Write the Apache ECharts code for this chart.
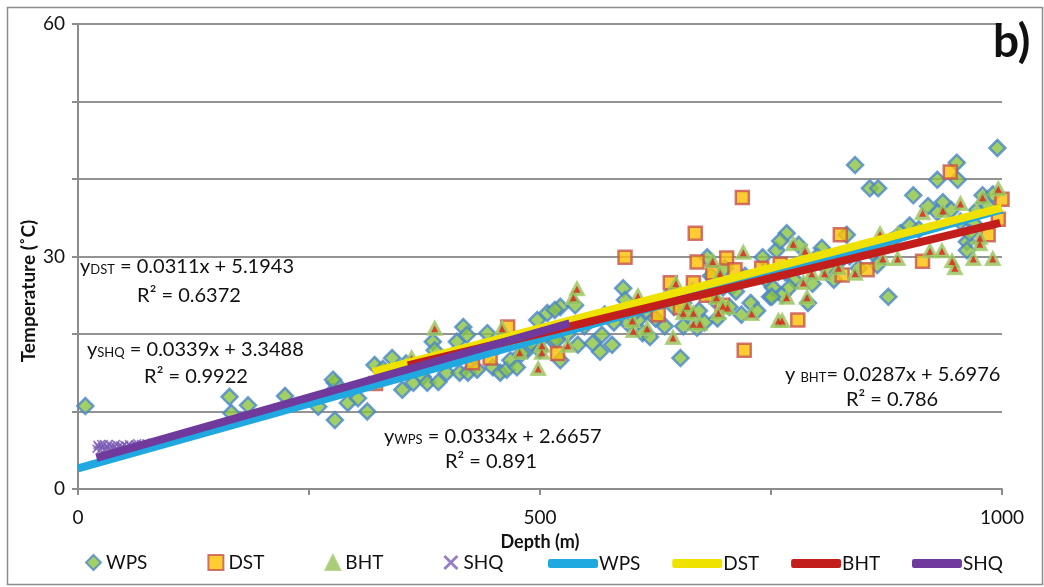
<!DOCTYPE html>
<html><head><meta charset="utf-8">
<script src="https://cdn.jsdelivr.net/npm/echarts@6/dist/echarts.min.js"></script>
<style>html,body{margin:0;padding:0;background:#fff}#c{width:1044px;height:587px}</style>
</head><body><div id="c"></div>
<script>
// ---- data (depth m, temperature °C) ----
const wpsData = [[8,10.7],[164,11.9],[166,9.8],[184,10.8],[224,12.0],[260,10.6],[278,8.9],[278,13.7],[276,12.6],[292,11.1],[303,11.7],[313,10.0],
[276,14.1],[321,16.0],[340,16.9],[346,15.4],[351,12.8],[363,13.7],[373,14.5],[378,13.7],[384,19.0],[386,17.9],[390,13.8],[399,15.0],[410,19.0],[417,20.9],[421,19.9],[413,15.0],[422,15.0],[432,15.4],[443,20.1],[449,15.7],[457,15.0],[464,15.4],[468,16.6],[475,15.7],[486,17.9],[497,21.8],[500,17.9],[508,22.7],[514,19.2],[522,23.5],[330,15.5],[336,14.8],[355,16.2],[368,15.8],[395,16.5],[405,17.2],[428,17.0],[438,18.2],[455,18.5],[470,19.0],[480,17.5],[490,18.8],[505,19.8],[518,20.5],[530,20.0],
[516,23.1],[538,23.7],[518,19.2],[522,16.6],[541,18.6],[557,18.8],[565,17.7],[567,19.9],[578,18.6],[590,25.9],[592,24.4],[595,21.4],[606,21.8],[611,20.1],[619,19.6],[652,16.9],[670,20.8],[681,29.9],[708,26.1],[741,29.9],[749,24.8],[600,22.5],[615,23.0],[625,22.0],[635,21.0],[645,23.5],[655,24.0],[660,22.5],[665,25.5],[672,23.0],[678,21.5],[688,24.5],[692,22.0],[698,26.0],[705,23.5],[712,25.5],[718,22.5],[722,27.5],[728,24.0],[735,23.0],[745,27.0],[752,26.0],[758,28.0],[762,25.0],[700,28.5],[685,27.5],[655,21.0],[640,25.0],[580,21.5],[570,22.5],[548,21.0],
[841,41.8],[857,38.8],[866,38.8],[904,37.9],[930,39.9],[951,42.1],[952,39.9],[995,44.0],[936,37.0],[979,37.9],[930,35.7],[962,31.9],[877,24.8],[767,33.0],[756,30.8],[751,24.8],[805,31.1],[832,32.8],[865,28.9],[969,34.3],[973,36.0],[962,30.8],[765,28.0],[775,27.0],[785,29.5],[795,26.5],[800,30.0],[810,28.5],[818,27.0],[825,29.5],[835,30.0],[845,28.5],[852,31.0],[860,30.5],[870,31.5],[880,32.0],[890,33.0],[900,34.0],[910,33.5],[920,36.5],[945,36.0],[955,34.5],[965,33.0],[985,36.5],[990,38.0],[780,31.5],[790,24.0],[760,32.0],[770,26.0]];
const dstData = [[322,13.6],[427,16.3],[446,16.9],[465,20.9],[519,17.5],[592,29.9],[628,22.5],[641,26.6],[652,23.4],[666,26.6],[668,33.0],[670,29.3],[687,27.9],[697,23.7],[702,29.8],[711,28.3],[719,37.6],[721,17.9],[779,21.8],[825,32.8],[827,27.6],[854,28.3],[914,29.4],[944,40.9],[985,32.8],[996,34.8],[1000,37.4],[760,29.0],[740,28.5],[680,25.0]];
const bhtData = [[361,17.0],[386,20.8],[459,20.8],[478,17.7],[498,15.6],[502,17.7],[502,18.6],[530,18.6],[536,24.8],[540,25.9],[600,21.8],[601,20.5],[606,25.0],[616,20.8],[644,19.6],[647,26.6],[655,22.8],[659,23.7],[666,21.4],[666,22.8],[673,21.4],[687,29.5],[691,24.8],[693,22.8],[695,27.9],[698,23.7],[703,23.5],[720,30.6],[729,22.7],[758,21.8],
[996,38.8],[979,37.7],[914,35.7],[955,36.9],[936,36.0],[976,32.5],[976,31.7],[868,33.0],[887,33.0],[774,31.7],[787,30.8],[922,30.8],[935,30.8],[949,28.6],[946,29.5],[969,29.8],[990,29.8],[871,29.8],[887,29.8],[841,27.9],[808,27.9],[794,27.9],[789,24.8],[767,24.8],[762,21.8],[785,26.7],[823,28.6]];
const shqData = [[20,5.2],[21,5.7],[22,5.5],[24,5.0],[25,5.8],[26,5.4],[28,5.8],[29,5.0],[30,5.2],[32,5.5],[33,5.8],[34,5.1],[36,5.6],[38,5.3],[40,5.5],[41,5.8],[42,5.2],[45,5.6],[47,5.3],[48,5.5],[50,5.7],[53,5.5],[55,5.8],[56,5.6],[59,5.4],[62,5.7],[64,5.9],[65,5.6],[68,5.8],[71,5.7],[74,5.9],[77,5.8],[80,6.0],[83,6.0]];
// linear trend lines (Excel fits)
const fitNames = ['WPS','DST','BHT','SHQ'];
const fitSlope = [0.0334,0.0311,0.0287,0.0339];
const fitIntercept = [2.6657,5.1943,5.6976,3.3488];
const fitRange = [[0,1000],[319,1000],[357,998],[20,532]];
const xLabelTicks = [0,500,1000];
const yLabelTicks = [0,30,60];
const eqTexts = ['y{s|DST} = 0.0311x + 5.1943','R² = 0.6372','y{s|SHQ} = 0.0339x + 3.3488','R² = 0.9922','y{s|WPS} = 0.0334x + 2.6657','R² = 0.891','y {s|BHT}= 0.0287x + 5.6976','R² = 0.786'];

const FONT = 'Lato, "Open Sans", sans-serif';
const lineColors = ['#20a8e0','#efe200','#c21f1c','#6f3a9c'];
const crossPath = 'path://M0,1.3L1.3,0L5,3.7L8.7,0L10,1.3L6.3,5L10,8.7L8.7,10L5,6.3L1.3,10L0,8.7L3.7,5Z';

const fitSeries = fitNames.map((n,i)=>({
  name: n + ' ', type:'line', symbol:'none', silent:true,
  data: fitRange[i].map(x=>[x, fitSlope[i]*x + fitIntercept[i]]),
  lineStyle:{color:lineColors[i], width:8, cap:'butt'},
  itemStyle:{color:lineColors[i]}, z:5, animation:false
}));

const eqStyle = {fontFamily:FONT, fontSize:20, fill:'#111', rich:{s:{fontSize:13, fontFamily:FONT, fill:'#111', verticalAlign:'bottom', padding:[0,0,1,0]}}};
function eq(text,x,y,align){return {type:'text', x:x, y:y, z:100, style:Object.assign({}, eqStyle, {text:text, align:align, verticalAlign:'middle'})};}

const chart = echarts.init(document.getElementById('c'), null, {renderer:'canvas'});
chart.setOption({
  animation:false,
  backgroundColor:'#fff',
  grid:{left:78, right:42, top:24, bottom:98},
  xAxis:{type:'value', min:0, max:1000, interval:250,
    name:'Depth (m)', nameLocation:'middle', nameGap:44,
    nameTextStyle:{fontFamily:FONT, fontSize:18, fontWeight:'bold', color:'#111'},
    axisLine:{lineStyle:{color:'#8c8c8c', width:2}},
    axisTick:{show:true, length:6, lineStyle:{color:'#8c8c8c', width:2}},
    axisLabel:{margin:19, fontFamily:FONT, fontSize:19, color:'#111',
      formatter:v=> xLabelTicks.includes(v) ? String(v) : ''},
    splitLine:{show:false}},
  yAxis:{type:'value', min:0, max:60, interval:10,
    axisLine:{show:true, lineStyle:{color:'#8c8c8c', width:2}},
    axisTick:{show:true, length:6, lineStyle:{color:'#8c8c8c', width:2}},
    axisLabel:{margin:13, fontFamily:FONT, fontSize:19, color:'#111',
      formatter:v=> yLabelTicks.includes(v) ? String(v) : ''},
    splitLine:{show:true, lineStyle:{color:'#939393', width:2}}},
  legend:[
    {data:['WPS','DST','BHT','SHQ'], left:80, top:548, itemGap:60, itemWidth:15, itemHeight:15,
     textStyle:{fontFamily:FONT, fontSize:19, color:'#111'}},
    {data:['WPS ','DST ','BHT ','SHQ '], left:543, top:549, itemGap:27, itemWidth:50, itemHeight:9, icon:'roundRect',
     textStyle:{fontFamily:FONT, fontSize:19, color:'#111', padding:[0,0,0,-4]}}
  ],
  series:[
    {name:'WPS', type:'scatter', data:wpsData, symbol:'diamond', symbolSize:16,
     itemStyle:{color:'#8cc43f', borderColor:'#4a86cc', borderWidth:2.5}, z:2},
    {name:'DST', type:'scatter', data:dstData, symbol:'rect', symbolSize:13,
     itemStyle:{color:'#ffc000', borderColor:'#c8524c', borderWidth:2.5}, z:2},
    {name:'BHT', type:'scatter', data:bhtData, symbol:'triangle', symbolSize:[16,15],
     itemStyle:{color:'#93c055', borderColor:'#a9cf78', borderWidth:1}, z:2},
    {name:'BHTinner', type:'scatter', data:bhtData, symbol:'triangle', symbolSize:[7,7], symbolOffset:[0,1], silent:true,
     itemStyle:{color:'#e0201c'}, z:2},
    {name:'SHQ', type:'scatter', data:shqData, symbol:crossPath, symbolSize:9,
     itemStyle:{color:'#7d5db5'}, z:2}
  ].concat(fitSeries),
  graphic:[
    {type:'rect', shape:{x:7.5, y:7.5, width:1035, height:577}, style:{fill:'none', stroke:'#8c8c8c', lineWidth:1.5}, z:-1, silent:true},
    {type:'text', x:993, y:42, z:100, style:{text:'b)', fontFamily:FONT, fontSize:46, fontWeight:'bold', fill:'#111', align:'left', verticalAlign:'middle'}},
    {type:'text', x:29, y:291, rotation:Math.PI/2, z:100, style:{text:'Temperature (˚C)', fontFamily:FONT, fontSize:19, fontWeight:'bold', fill:'#111', align:'center', verticalAlign:'middle'}},
    eq(eqTexts[0], 80, 267, 'left'),
    eq(eqTexts[1], 189, 296, 'center'),
    eq(eqTexts[2], 87, 350, 'left'),
    eq(eqTexts[3], 196, 377, 'center'),
    eq(eqTexts[4], 384, 437, 'left'),
    eq(eqTexts[5], 491, 462, 'center'),
    eq(eqTexts[6], 785, 375, 'left'),
    eq(eqTexts[7], 892, 400, 'center')
  ]
});
</script></body></html>
